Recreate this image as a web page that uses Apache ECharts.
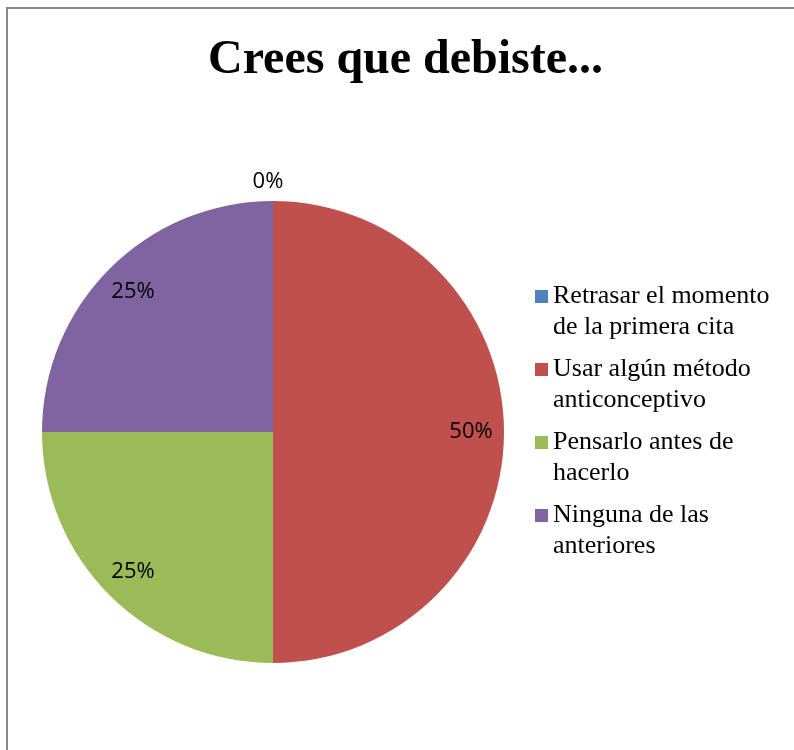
<!DOCTYPE html>
<html>
<head>
<meta charset="utf-8">
<style>
  html, body { margin: 0; padding: 0; background: #ffffff; }
  #chart { width: 794px; height: 750px; }
</style>
<script src="https://cdn.jsdelivr.net/npm/echarts@6/dist/echarts.min.js"></script>
</head>
<body>
<div id="chart"></div>
<script>
// Survey answers and their shares (percent)
const categories = [
  'Retrasar el momento de la primera cita',
  'Usar algún método anticonceptivo',
  'Pensarlo antes de hacerlo',
  'Ninguna de las anteriores'
];
const shares = [0, 50, 25, 25];
const sliceColors = ['#4F81BD', '#C0504D', '#9BBB59', '#8064A2'];
const titleText = 'Crees que debiste...';

const pieData = categories.map((name, i) => ({ name: name, value: shares[i] }));

// Label ring: same data, invisible sectors, used only to place the percent labels
const labelData = categories.map((name, i) => ({
  name: name,
  value: shares[i],
  label: shares[i] === 0
    ? { position: 'outside' }
    : { position: 'inside' }
}));

const chart = echarts.init(document.getElementById('chart'), null, { renderer: 'canvas' });

chart.setOption({
  animation: false,
  color: sliceColors,
  title: {
    text: titleText,
    left: 208,
    top: 37,
    padding: 0,
    textStyle: {
      fontFamily: '"Liberation Serif", "Times New Roman", serif',
      fontWeight: 'bold',
      fontSize: 48,
      color: '#000000'
    }
  },
  legend: {
    orient: 'vertical',
    left: 535,
    top: 250,
    padding: 0,
    itemWidth: 13,
    itemHeight: 13,
    itemGap: -20,
    icon: 'rect',
    selectedMode: false,
    data: categories,
    // leading blank line keeps the marker level with the first text line
    formatter: function (name) { return '\n' + name; },
    textStyle: {
      fontFamily: '"Liberation Serif", "Times New Roman", serif',
      fontSize: 26,
      color: '#000000',
      lineHeight: 31,
      width: 235,
      overflow: 'break'
    }
  },
  graphic: [{
    type: 'rect',
    silent: true,
    shape: { x: 7, y: 8, width: 820, height: 780 },
    style: { fill: 'none', stroke: '#888888', lineWidth: 2 }
  }],
  series: [
    {
      type: 'pie',
      center: [273, 432],
      radius: 231,
      startAngle: 90,
      clockwise: true,
      silent: true,
      label: { show: false },
      labelLine: { show: false },
      emphasis: { disabled: true },
      itemStyle: { borderWidth: 0 },
      data: pieData
    },
    {
      type: 'pie',
      center: [273, 432],
      radius: [160, 230],
      startAngle: 90,
      clockwise: true,
      silent: true,
      avoidLabelOverlap: false,
      emphasis: { disabled: true },
      itemStyle: { color: 'rgba(0,0,0,0)', borderWidth: 0 },
      label: {
        show: true,
        formatter: '{c}%',
        color: '#000000',
        fontFamily: '"Open Sans", "Noto Sans", sans-serif',
        fontSize: 22
      },
      labelLine: { show: false, length: 20, length2: 0 },
      labelLayout: function (params) {
        if (shares[params.dataIndex] === 0) {
          return { align: 'center' };
        }
      },
      data: labelData
    }
  ]
});
</script>
</body>
</html>
